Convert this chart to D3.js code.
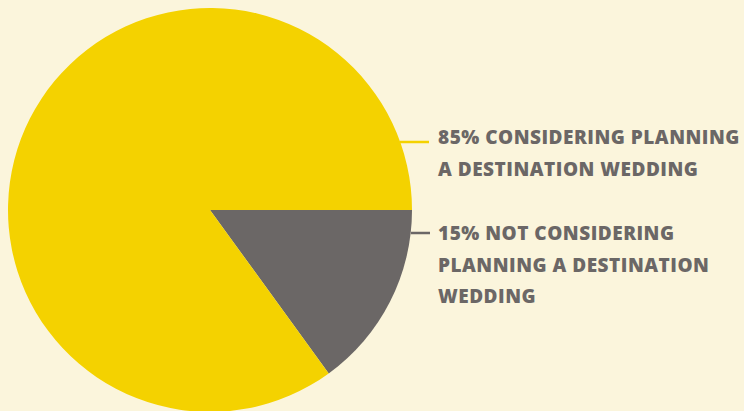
<!DOCTYPE html>
<html>
<head>
<meta charset="utf-8">
<script src="https://cdn.jsdelivr.net/npm/d3@7"></script>
<style>
  body { margin: 0; background: #fbf5dc; }
  svg { display: block; }
  .label { font-family: "Open Sans", sans-serif; font-weight: 800; fill: #6b6766; letter-spacing: 0.5px; }
</style>
</head>
<body>
<svg id="chart"></svg>
<script>
// data
const categories = ["Not considering", "Considering"];
const values = [15, 85];
const labelLines = [
  ["15% NOT CONSIDERING", "PLANNING A DESTINATION", "WEDDING"],
  ["85% CONSIDERING PLANNING", "A DESTINATION WEDDING"]
];
const colors = ["#6b6766", "#f4d200"];

const width = 744, height = 411;
const cx = 210, cy = 210, radius = 202;

const svg = d3.select("#chart").attr("width", width).attr("height", height);

const pie = d3.pie()
  .sort(null)
  .startAngle(Math.PI / 2)
  .endAngle(Math.PI / 2 + 2 * Math.PI);

const arc = d3.arc().innerRadius(0).outerRadius(radius);

const g = svg.append("g").attr("transform", `translate(${cx},${cy})`);

g.selectAll("path")
  .data(pie(values))
  .join("path")
  .attr("d", arc)
  .attr("fill", (d, i) => colors[i]);

// leader lines + labels
const leaders = [
  { y: 233, x1: 411, x2: 430, textY: 240 },
  { y: 142, x1: 400, x2: 429, textY: 144 }
];

leaders.forEach((l, i) => {
  svg.append("line")
    .attr("x1", l.x1).attr("x2", l.x2)
    .attr("y1", l.y).attr("y2", l.y)
    .attr("stroke", colors[i])
    .attr("stroke-width", 2.5);

  const t = svg.append("text")
    .attr("class", "label")
    .attr("x", 438)
    .attr("y", l.textY)
    .style("font-size", "19px");

  t.selectAll("tspan")
    .data(labelLines[i])
    .join("tspan")
    .attr("x", 438)
    .attr("dy", (d, j) => j === 0 ? 0 : 31.5)
    .text(d => d);
});
</script>
</body>
</html>
